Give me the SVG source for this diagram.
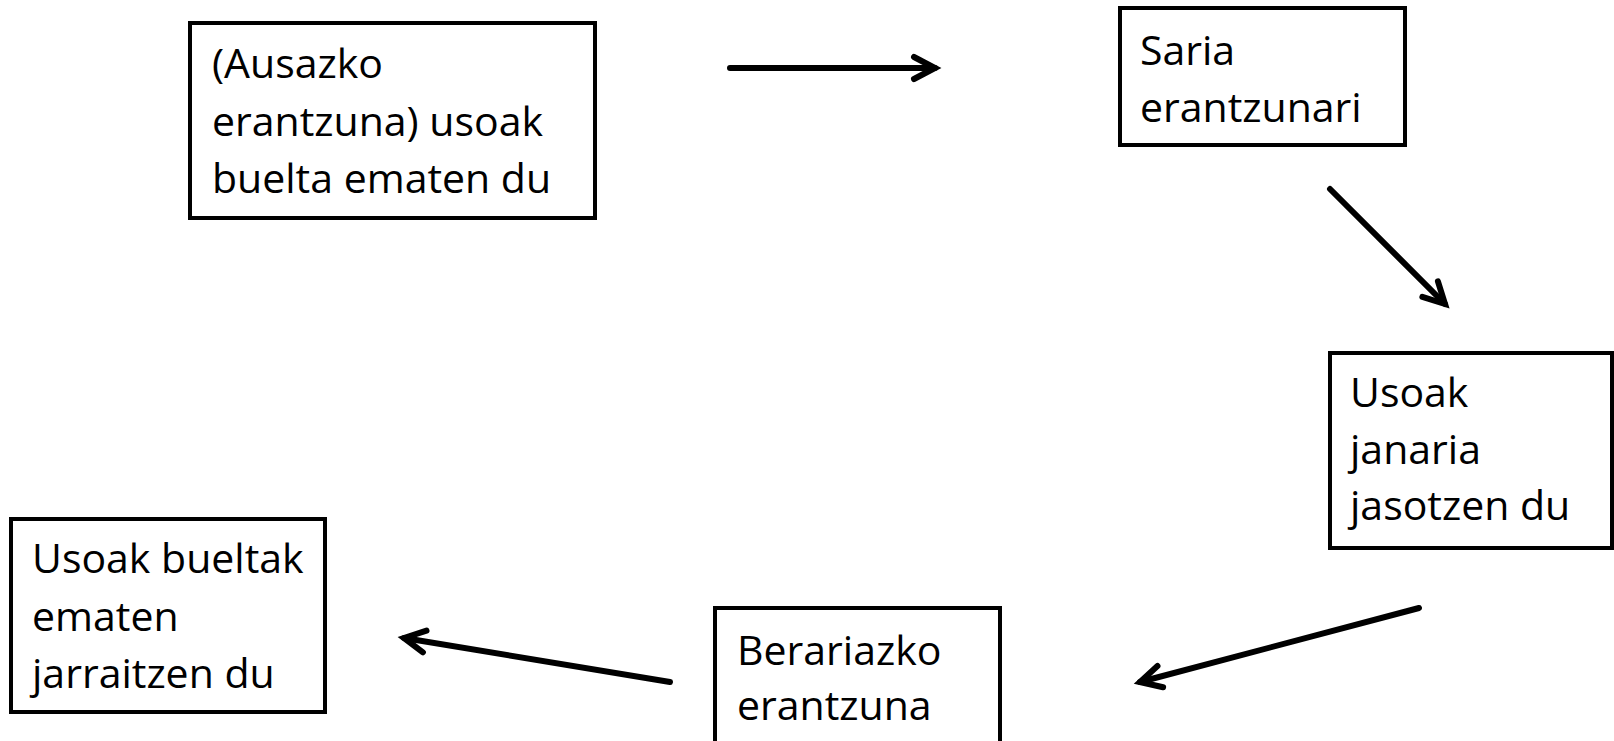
<svg xmlns="http://www.w3.org/2000/svg" width="1614" height="741" viewBox="0 0 1614 741">
<defs>
<style>
.box{fill:#fff;stroke:#000;stroke-width:4}
.lbl{font-family:"Open Sans","Noto Sans","Liberation Sans",sans-serif;font-size:41px;fill:#000}
.conn{fill:none;stroke:#000;stroke-width:6;stroke-linecap:round}
</style>
<marker id="arrow" markerUnits="userSpaceOnUse" markerWidth="40" markerHeight="40" refX="0" refY="0" viewBox="-30 -20 40 40" orient="auto" overflow="visible">
<path d="M-21,-11 L0,0 L-21,11" fill="none" stroke="#000" stroke-width="6" stroke-linecap="round" stroke-linejoin="miter"/>
</marker>
</defs>
<rect width="1614" height="741" fill="#fff"/>
<g id="connectors">
<line class="conn" x1="730" y1="68" x2="935" y2="68" marker-end="url(#arrow)"/>
<line class="conn" x1="1330" y1="189" x2="1445" y2="304" marker-end="url(#arrow)"/>
<line class="conn" x1="1419" y1="608" x2="1140" y2="682" marker-end="url(#arrow)"/>
<line class="conn" x1="670" y1="682" x2="404" y2="638" marker-end="url(#arrow)"/>
</g>
<g id="node1">
<rect class="box" x="190" y="23" width="405" height="195"/>
<text class="lbl" x="212" y="78">(Ausazko</text>
<text class="lbl" x="212" y="135.5">erantzuna) usoak</text>
<text class="lbl" x="212" y="193">buelta ematen du</text>
</g>
<g id="node2">
<rect class="box" x="1120" y="8" width="285" height="137"/>
<text class="lbl" x="1140" y="65">Saria</text>
<text class="lbl" x="1140" y="122">erantzunari</text>
</g>
<g id="node3">
<rect class="box" x="1330" y="353" width="282" height="195"/>
<text class="lbl" x="1350" y="407">Usoak</text>
<text class="lbl" x="1350" y="463.5">janaria</text>
<text class="lbl" x="1350" y="520">jasotzen du</text>
</g>
<g id="node4">
<rect class="box" x="11" y="519" width="314" height="193"/>
<text class="lbl" x="32" y="573">Usoak bueltak</text>
<text class="lbl" x="32" y="630.5">ematen</text>
<text class="lbl" x="32" y="688">jarraitzen du</text>
</g>
<g id="node5">
<rect class="box" x="715" y="608" width="285" height="150"/>
<text class="lbl" x="737" y="665">Berariazko</text>
<text class="lbl" x="737" y="720">erantzuna</text>
</g>
</svg>
